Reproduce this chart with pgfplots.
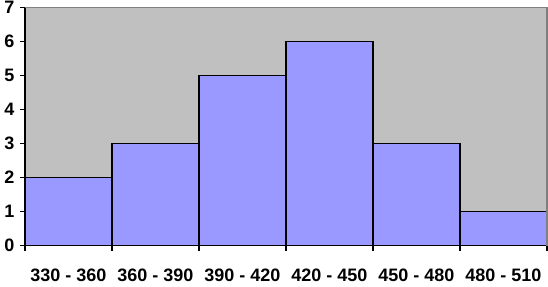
\documentclass[border=0pt]{standalone}
\usepackage{pgfplots}
\pgfplotsset{compat=1.18}
\usepackage{fontspec}
\setmainfont{Liberation Sans}
\definecolor{barfill}{HTML}{9999FF}
\definecolor{bgray}{HTML}{C0C0C0}
\definecolor{dgray}{HTML}{808080}
\begin{document}
\begin{tikzpicture}[x=1bp,y=1bp]
\useasboundingbox (-25bp,-41.5bp) rectangle (523bp,245.5bp);
\pgfplotstableread{
x y
0 2
1 3
2 5
3 6
4 3
5 1
6 1
}\bins
\begin{axis}[
  at={(0,0)}, anchor=south west,
  scale only axis,
  width=522bp, height=238bp,
  xmin=0, xmax=6, ymin=0, ymax=7,
  axis x line*=bottom, axis y line*=left,
  axis line style={black, line width=1.5bp},
  axis background/.style={fill=bgray},
  xtick={0,...,6}, xticklabels={},
  extra x ticks={0.5,1.5,2.5,3.5,4.5,5.5},
  extra x tick labels={330 - 360,360 - 390,390 - 420,420 - 450,450 - 480,480 - 510},
  extra x tick style={major tick length=0pt, tick label style={yshift=-20bp}},
  ytick={0,...,7},
  tick align=outside,
  major tick length=5bp,
  tick style={black, line width=1.5bp},
  tick label style={font=\fontsize{18bp}{20bp}\selectfont\bfseries},
  yticklabel style={xshift=-2bp},
  /pgf/number format/assume math mode=true,
  clip=false,
  after end axis/.code={
    \draw[dgray, line width=1.5bp] (rel axis cs:0,1) -- (rel axis cs:1,1) -- (rel axis cs:1,0);
  },
]
\addplot[ybar interval, fill=barfill, draw=black, line width=1.5bp] table[x=x,y=y] {\bins};
\end{axis}
\end{tikzpicture}
\end{document}
